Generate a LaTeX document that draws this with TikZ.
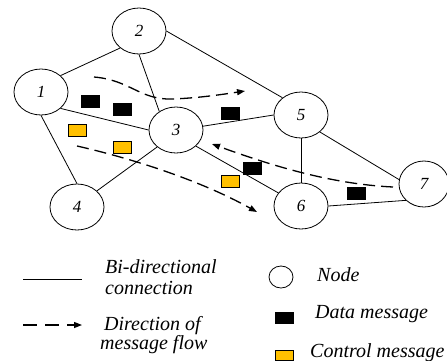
\documentclass[tikz,border=0pt]{standalone}
\usepackage{fontspec}
\setmainfont{Liberation Serif}
\usetikzlibrary{arrows.meta,shapes.geometric}
\definecolor{ctrl}{HTML}{FFC000}
\begin{document}
\begin{tikzpicture}[x=1pt,y=-1pt,
  nd/.style={draw, ellipse, minimum width=54pt, minimum height=46pt, inner sep=0pt, line width=0.8pt,
    font=\fontsize{17}{17}\selectfont\itshape},
  edge/.style={line width=0.8pt},
  flow/.style={line width=1.3pt, dash pattern=on 12pt off 6pt, -{Triangle[length=8pt,width=6pt]}},
  dmsg/.style={draw, fill=black, minimum width=18pt, minimum height=12pt, inner sep=0pt, line width=0.4pt},
  cmsg/.style={draw, fill=ctrl, minimum width=18pt, minimum height=12pt, inner sep=0pt, line width=0.4pt},
  lg/.style={anchor=base west, inner sep=0pt, font=\fontsize{20}{22}\selectfont\itshape}
]
\useasboundingbox (0,0) rectangle (447,360);
% nodes
\node[nd] (n1) at (41,92) {1};
\node[nd] (n2) at (139,31) {2};
\node[nd] (n3) at (176,130) {3};
\node[nd] (n4) at (77,207) {4};
\node[nd] (n5) at (301,115) {5};
\node[nd] (n6) at (301,206) {6};
\node[nd, minimum width=50pt] (n7) at (424,184) {7};
% edges
\draw[edge] (n1.40) -- (n2.222);
\draw[edge] (n1.-40) -- (n3.180);
\draw[edge] (n1.south) -- (n4.north);
\draw[edge] (n2.south) -- (n3.132);
\draw[edge] (n2.east) -- (n5.137);
\draw[edge] (n3.8) -- (n5.west);
\draw[edge] (n3.222) -- (n4.39);
\draw[edge] (n3.-39) -- (n6.150);
\draw[edge] (n5.south) -- (n6.north);
\draw[edge] (n5.-42) -- (n7.170);
\draw[edge] (n6.east) -- (n7.222);
% messages
\node[dmsg] (d1) at (90,101) {};
\node[dmsg] (d2) at (122,109) {};
\node[dmsg] (d3) at (230,113) {};
\node[dmsg] (d4) at (252,168) {};
\node[dmsg] (d5) at (356,193) {};
\node[cmsg] (c1) at (77,130) {};
\node[cmsg] (c2) at (122,147) {};
\node[cmsg] (c3) at (230,181) {};
% flow arrows
\coordinate (a1) at (94,77);
\coordinate (a2) at (245,91);
\coordinate (b1) at (77,146);
\coordinate (b2) at (257,212);
\coordinate (e1) at (393,187);
\coordinate (e2) at (212,144);
\draw[flow] (a1) .. controls (130,80) and (140,100) .. (172,99) .. controls (200,98) and (225,94) .. (a2);
\draw[flow] (b1) .. controls (130,158) and (200,180) .. (b2);
\draw[flow] (e1) .. controls (330,184) and (270,165) .. (e2);
% legend
\coordinate (l1a) at (23,279);
\coordinate (l1b) at (82,279);
\draw[edge] (l1a) -- (l1b);
\node[lg] (t1) at (105,273) {Bi-directional};
\node[lg] (t2) at (105,294) {connection};
\coordinate (l2a) at (23,325);
\coordinate (l2b) at (82,325);
\draw[line width=1.3pt, dash pattern=on 14pt off 8pt, -{Triangle[length=8pt,width=6pt]}] (l2a) -- (l2b);
\node[lg] (t3) at (104,330) {Direction of};
\node[lg] (t4) at (100,349) {message flow};
\node[draw, ellipse, minimum width=24pt, minimum height=22pt, line width=0.8pt] (lc) at (281,277) {};
\node[lg] (t5) at (317,281) {Node};
\node[dmsg, minimum height=11pt] (ld) at (284,317.5) {};
\node[lg] (t6) at (315,318) {Data message};
\node[cmsg, minimum height=10pt] (lcm) at (284,355) {};
\node[lg] (t7) at (310,357) {Control message};
\end{tikzpicture}
\end{document}
